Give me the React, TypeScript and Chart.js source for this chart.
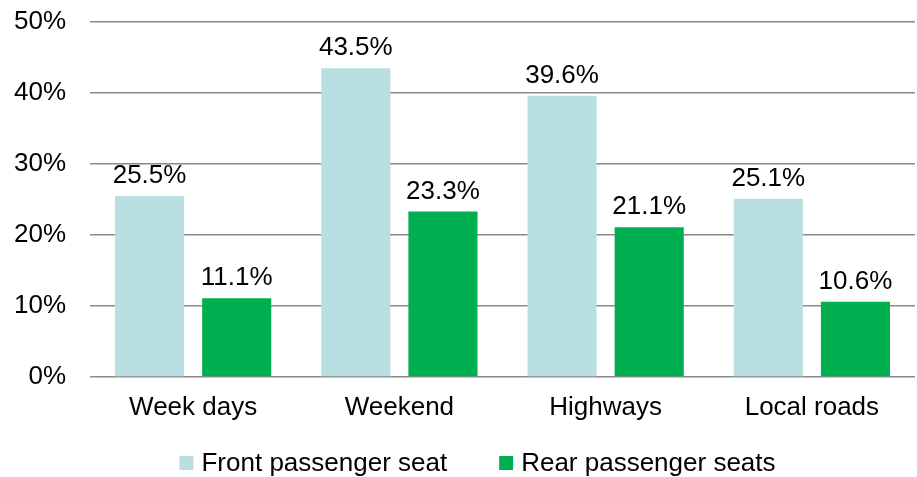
import React, { useEffect, useRef } from "react";
import { Chart, registerables } from "chart.js";

Chart.register(...registerables);

const categories = ["Week days", "Weekend", "Highways", "Local roads"];
const frontSeat = [25.5, 43.5, 39.6, 25.1];
const rearSeats = [11.1, 23.3, 21.1, 10.6];
const seriesNames = ["Front passenger seat", "Rear passenger seats"];
const seriesColors = ["#B9DFE2", "#00B050"];
const FONT = "'Liberation Sans', Arial, sans-serif";

const dataLabelPlugin = {
  id: "dataLabels",
  afterDatasetsDraw(chart: any) {
    const ctx = chart.ctx;
    ctx.save();
    ctx.font = `26px ${FONT}`;
    ctx.fillStyle = "#000";
    ctx.textAlign = "center";
    ctx.textBaseline = "alphabetic";
    chart.data.datasets.forEach((ds: any, i: number) => {
      const meta = chart.getDatasetMeta(i);
      meta.data.forEach((bar: any, j: number) => {
        const v = ds.data[j] as number;
        ctx.fillText(v.toFixed(1) + "%", bar.x, bar.y - 13);
      });
    });
    ctx.restore();
  },
};

const legendPlugin = {
  id: "customLegend",
  afterDraw(chart: any) {
    const ctx = chart.ctx;
    ctx.save();
    ctx.font = `26px ${FONT}`;
    ctx.textBaseline = "middle";
    ctx.textAlign = "left";
    const box = 14;
    const gap = 8;
    const itemGap = 52;
    const items = chart.data.datasets.map((ds: any) => ({
      label: ds.label,
      color: ds.backgroundColor,
      w: box + gap + ctx.measureText(ds.label).width,
    }));
    const total = items.reduce((s: number, it: any) => s + it.w, 0) + itemGap * (items.length - 1);
    let x = chart.width / 2 + 19 - total / 2;
    const y = 463;
    items.forEach((it: any) => {
      ctx.fillStyle = it.color;
      ctx.fillRect(x, y - box / 2, box, box);
      ctx.fillStyle = "#000";
      ctx.fillText(it.label, x + box + gap, y + 1);
      x += it.w + itemGap;
    });
    ctx.restore();
  },
};

export default function App() {
  const ref = useRef<HTMLCanvasElement | null>(null);
  useEffect(() => {
    document.body.style.margin = "0";
    if (!ref.current) return;
    const chart = new Chart(ref.current, {
      type: "bar",
      data: {
        labels: categories,
        datasets: [
          { label: seriesNames[0], data: frontSeat, backgroundColor: seriesColors[0] },
          { label: seriesNames[1], data: rearSeats, backgroundColor: seriesColors[1] },
        ],
      },
      options: {
        animation: false,
        responsive: false,
        devicePixelRatio: 1,
        layout: { autoPadding: false, padding: { top: 22, right: 2, bottom: 54, left: 0 } },
        datasets: { bar: { categoryPercentage: 0.845, barPercentage: 0.793 } },
        plugins: { legend: { display: false }, tooltip: { enabled: false } },
        scales: {
          x: {
            clip: false,
            afterFit(scale: any) {
              scale.height = 46;
            },
            grid: { display: false, drawTicks: false },
            border: { display: false },
            ticks: { color: "#000", font: { family: FONT, size: 26 }, padding: 15, maxRotation: 0, autoSkip: false },
          },
          y: {
            clip: false,
            min: 0,
            max: 50,
            afterFit(scale: any) {
              scale.width = 90;
              scale.paddingTop = 0;
              scale.paddingBottom = 0;
            },
            grid: { color: "#8a8a8a", lineWidth: 1.5, drawTicks: false },
            border: { display: false },
            ticks: {
              stepSize: 10,
              color: "#000",
              padding: 24,
              font: { family: FONT, size: 26 },
              callback: (v: any) => v + "%",
            },
          },
        },
      },
      plugins: [dataLabelPlugin, legendPlugin],
    } as any);
    return () => chart.destroy();
  }, []);
  return <canvas ref={ref} width={917} height={477} style={{ display: "block" }} />;
}
